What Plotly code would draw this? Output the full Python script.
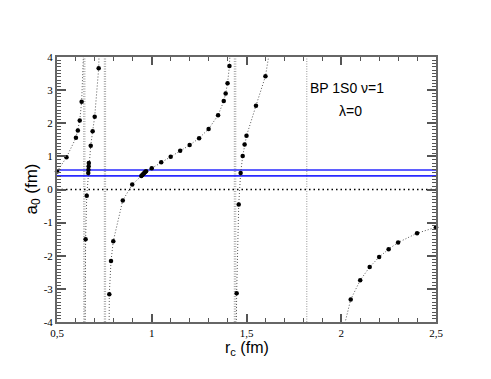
import plotly.graph_objects as go

# ---- data ----
b1_x = [0.50, 0.55, 0.60, 0.61, 0.62, 0.63]
b1_y = [0.54, 0.97, 1.56, 1.78, 2.08, 2.65]

b2_x = [0.651, 0.657, 0.665, 0.666, 0.667, 0.668, 0.678, 0.688, 0.699, 0.720]
b2_y = [-1.50, -0.19, 0.50, 0.60, 0.70, 0.80, 1.32, 1.76, 2.20, 3.66]

b3_x = [0.776, 0.785, 0.797, 0.847, 0.897, 0.945, 0.950, 0.955, 0.960, 0.965, 0.970,
        1.00, 1.05, 1.10, 1.15, 1.20, 1.25, 1.30, 1.35, 1.38, 1.39, 1.40, 1.41]
b3_y = [-3.16, -2.16, -1.56, -0.33, 0.15, 0.41, 0.44, 0.47, 0.50, 0.53, 0.55,
        0.64, 0.82, 0.99, 1.17, 1.34, 1.55, 1.83, 2.24, 2.67, 2.90, 3.21, 3.73]

b4_x = [1.448, 1.459, 1.469, 1.48, 1.49, 1.50, 1.55, 1.60]
b4_y = [-3.13, -0.45, 0.50, 1.01, 1.36, 1.62, 2.53, 3.42]

b5_x = [2.05, 2.10, 2.15, 2.20, 2.25, 2.30, 2.40, 2.50]
b5_y = [-3.32, -2.74, -2.34, -2.04, -1.80, -1.60, -1.32, -1.14]

# where each branch's curve leaves the frame (start, end)
b1_ends = [None, (0.641, 4.3)]
b2_ends = [(0.648, -4.3), (0.723, 4.3)]
b3_ends = [(0.775, -4.3), (1.414, 4.3)]
b4_ends = [(1.446, -4.3), (1.625, 4.3)]
b5_ends = [(2.008, -4.3), None]

asymptotes = [0.641, 0.647, 0.750, 0.756, 1.436, 1.443, 1.818]
blue_levels = [0.59, 0.41]

x_ticks = [0.5, 1.0, 1.5, 2.0, 2.5]
x_ticktext = ["0,5", "1", "1,5", "2", "2,5"]
y_ticks = [-4, -3, -2, -1, 0, 1, 2, 3, 4]
y_ticktext = ["-4", "-3", "-2", "-1", "0", "1", "2", "3", "4"]

SERIF = "Liberation Serif"
SANS = "Liberation Sans"

fig = go.Figure()

for a in asymptotes:
    fig.add_trace(go.Scatter(x=[a, a], y=[-4, 4], mode="lines",
                             line=dict(color="#a8a8a8", width=1.2, dash="1px,1.5px"),
                             hoverinfo="skip", showlegend=False))

for lv in blue_levels:
    fig.add_trace(go.Scatter(x=[0.5, 2.5], y=[lv, lv], mode="lines",
                             line=dict(color="#2a2aff", width=1.6),
                             showlegend=False))

fig.add_trace(go.Scatter(x=[0.5, 2.5], y=[0, 0], mode="lines",
                         line=dict(color="black", width=1.5, dash="1.5px,3px"),
                         showlegend=False))

for bx, by, ends in [(b1_x, b1_y, b1_ends), (b2_x, b2_y, b2_ends), (b3_x, b3_y, b3_ends),
                     (b4_x, b4_y, b4_ends), (b5_x, b5_y, b5_ends)]:
    lx, ly = list(bx), list(by)
    if ends[0] is not None:
        lx = [ends[0][0]] + lx
        ly = [ends[0][1]] + ly
    if ends[1] is not None:
        lx = lx + [ends[1][0]]
        ly = ly + [ends[1][1]]
    fig.add_trace(go.Scatter(x=lx, y=ly, mode="lines",
                             line=dict(color="#555555", width=1, dash="1px,2px"),
                             showlegend=False))
    fig.add_trace(go.Scatter(x=bx, y=by, mode="markers",
                             marker=dict(color="black", size=4.5),
                             cliponaxis=False, showlegend=False))

axis_common = dict(
    showline=True, mirror="allticks", linecolor="#666666", linewidth=2,
    ticks="inside", tickcolor="#555555", tickwidth=1.5,
    showgrid=False, zeroline=False,
    tickfont=dict(family=SERIF, size=11, color="black"),
)

fig.update_xaxes(range=[0.5, 2.5], tickvals=x_ticks, ticktext=x_ticktext, ticklen=8,
                 ticklabelstandoff=0,
                 minor=dict(dtick=0.1, tick0=0.5, ticks="inside", ticklen=4,
                            tickcolor="#555555", tickwidth=1),
                 **axis_common)
fig.update_yaxes(range=[-4, 4], tickvals=y_ticks, ticktext=y_ticktext, ticklen=9,
                 minor=dict(dtick=0.1, tick0=0, ticks="inside", ticklen=4,
                            tickcolor="#555555", tickwidth=1),
                 **axis_common)

# axis titles as annotations for precise placement
fig.add_annotation(xref="paper", yref="paper", x=0.5, y=0, yanchor="top", yshift=-15,
                   text="r<sub>c</sub> (fm)", showarrow=False,
                   font=dict(family=SANS, size=16, color="black"))
fig.add_annotation(xref="paper", yref="paper", x=0, y=0.5, xanchor="center", xshift=-25,
                   textangle=-90, text="a<sub>0</sub> (fm)", showarrow=False,
                   font=dict(family=SANS, size=17, color="black"))

fig.add_annotation(x=2.03, y=3.05, text="BP 1S0 ν=1", showarrow=False,
                   font=dict(family=SANS, size=14, color="black"))
fig.add_annotation(x=2.05, y=2.38, text="λ=0", showarrow=False,
                   font=dict(family=SANS, size=14, color="black"))

# the page adds an 8px body margin, so shift the plot area up/left by 8px
fig.update_layout(width=491, height=379,
                  margin=dict(l=49, r=63, t=49, b=65),
                  plot_bgcolor="white", paper_bgcolor="white",
                  showlegend=False)

fig.write_html("out.html")
